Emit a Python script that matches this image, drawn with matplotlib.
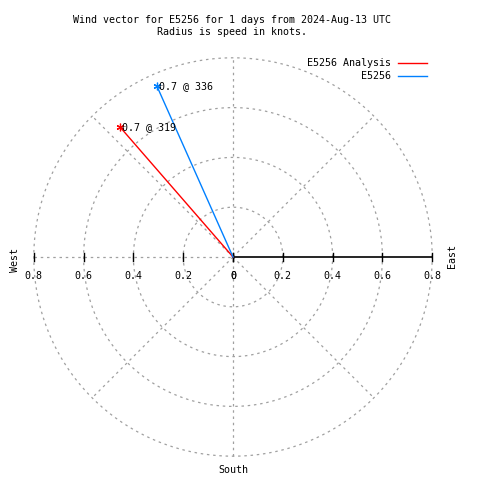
import numpy as np
import matplotlib
matplotlib.use("Agg")
import matplotlib.pyplot as plt

# Wind vectors (speed in knots, direction in degrees)
series_names = ["E5256 Analysis", "E5256"]
series_speed = [0.69, 0.75]
series_dir = [319, 336]
series_labels = ["0.7 @ 319", "0.7 @ 336"]
series_colors = ["#ff0000", "#0080ff"]

rings = [0.2, 0.4, 0.6, 0.8]
tick_vals = [0, 0.2, 0.4, 0.6, 0.8]
tick_text = ["0", "0.2", "0.4", "0.6", "0.8"]

font = "DejaVu Sans Mono"
fs = 7.2
grid_col = "#a0a0a0"

fig = plt.figure(figsize=(4.8, 4.8), dpi=100)
ax = fig.add_axes([0, 0, 1, 1])
scale = 249.0  # px per knot
cx, cy = 233.0, 257.0
ax.set_xlim(-cx / scale, (480 - cx) / scale)
ax.set_ylim(-(480 - cy) / scale, cy / scale)
ax.axis("off")

# grid circles
t = np.linspace(0, 2 * np.pi, 400)
for r in rings:
    ax.plot(r * np.cos(t), r * np.sin(t), color=grid_col, lw=0.9, ls=(0, (2, 3)))

# spokes
rmax = rings[-1]
for a in [45, 135, 225, 315]:
    ax.plot([0, rmax * np.cos(np.radians(a))], [0, rmax * np.sin(np.radians(a))],
            color=grid_col, lw=0.9, ls=(0, (2, 3)))
ax.plot([0, 0], [-rmax, rmax], color=grid_col, lw=0.9, ls=(0, (2, 3)))
ax.plot([-rmax, 0], [0, 0], color=grid_col, lw=0.9, ls=(0, (2, 3)))
ax.plot([0, rmax], [0, 0], color="black", lw=1.2)

# ticks on both sides
tk = 4 / scale
for v, s in zip(tick_vals, tick_text):
    for sign in (-1, 1):
        ax.plot([sign * v, sign * v], [-tk, tk], color="black", lw=1.0)
        ax.text(sign * v, -19 / scale, s, ha="center", va="center",
                family=font, fontsize=fs)

# vectors
for name, sp, d, lab, col in zip(series_names, series_speed, series_dir,
                                 series_labels, series_colors):
    x = sp * np.sin(np.radians(d))
    y = sp * np.cos(np.radians(d))
    ax.plot([0, x], [0, y], color=col, lw=1.0, label=name)
    ax.plot(x, y, marker=(6, 2, 0), color=col, ms=5.5, mew=0.9)
    ax.text(x + 2 / scale, y, lab, ha="left", va="center", family=font, fontsize=fs)

# compass labels
ax.text(-218 / scale, -3 / scale, "West", rotation=90, ha="center", va="center",
        family=font, fontsize=fs)
ax.text(219 / scale, 1 / scale, "East", rotation=90, ha="center", va="center",
        family=font, fontsize=fs)
ax.text(0, -213 / scale, "South", ha="center", va="center", family=font, fontsize=fs)

# legend (drawn by hand to match the right-aligned style)
for i, (name, col) in enumerate(zip(series_names, series_colors)):
    yy = 1 - (63 + 13 * i) / 480
    fig.text(391 / 480, yy, name, ha="right", va="center", family=font, fontsize=fs)
    fig.add_artist(plt.Line2D([398 / 480, 427 / 480], [yy, yy], color=col, lw=1.0))

fig.text(232 / 480, 1 - 26 / 480,
         "Wind vector for E5256 for 1 days from 2024-Aug-13 UTC\nRadius is speed in knots.",
         ha="center", va="center", family=font, fontsize=fs, linespacing=1.3)

fig.savefig("out.png", dpi=100)
